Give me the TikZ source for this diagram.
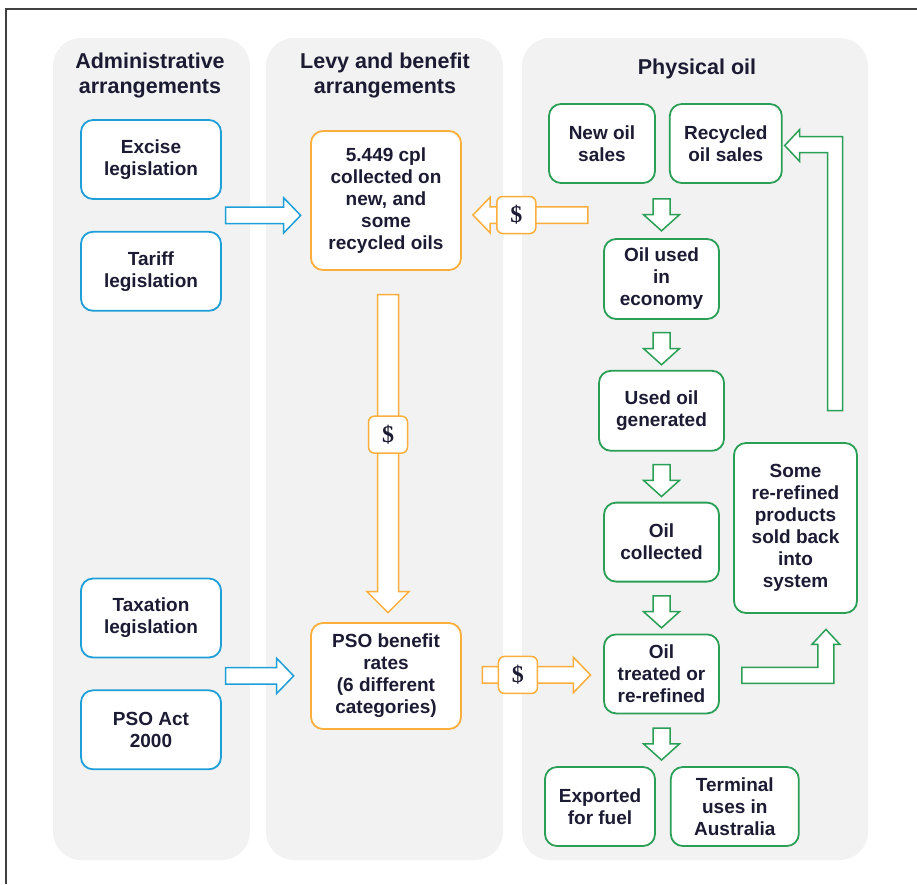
\documentclass[tikz,border=0pt]{standalone}
\usepackage{fontspec}
\setmainfont{Liberation Sans}
\newfontfamily\dollarfont{Liberation Serif}
\usetikzlibrary{shapes.arrows,positioning,calc}
\definecolor{admblue}{HTML}{1E9FD8}
\definecolor{levyorange}{HTML}{FBAE3C}
\definecolor{oilgreen}{HTML}{2A9F55}
\definecolor{panelgrey}{HTML}{F2F2F2}
\definecolor{ink}{HTML}{1B1B33}
\newcommand{\boxfont}{\fontsize{19}{22}\selectfont\bfseries}
\newcommand{\headfont}{\fontsize{21.5}{25}\selectfont\bfseries}
\tikzset{
  panel/.style={fill=panelgrey,rounded corners=28pt},
  heading/.style={align=center,font=\headfont,text=ink},
  stage/.style={rounded corners=12pt,fill=white,line width=1.8pt,align=center,font=\boxfont,text=ink,inner sep=2pt},
  admin/.style={stage,draw=admblue,minimum width=140pt,minimum height=79pt},
  levy/.style={stage,draw=levyorange,minimum width=150pt},
  phys/.style={stage,draw=oilgreen,minimum height=79pt},
  flow/.style={single arrow,fill=white,line width=1.5pt,minimum width=0pt,inner xsep=2pt,inner ysep=7.5pt,
    single arrow head extend=9.5pt,single arrow head indent=0pt,single arrow tip angle=92},
  aflow/.style={flow,draw=admblue},
  lflow/.style={flow,draw=levyorange},
  pflow/.style={flow,draw=oilgreen,shape border rotate=270,minimum height=32pt,inner sep=7.75pt,single arrow tip angle=96},
  bentflow/.style={draw=oilgreen,fill=white,line width=1.5pt,line join=miter},
  cash/.style={draw=levyorange,fill=white,line width=1.5pt,rounded corners=6pt,minimum width=39pt,minimum height=37pt,
    inner sep=0pt,font=\dollarfont\fontsize{24}{24}\selectfont\bfseries,text=ink},
}
\begin{document}
\begin{tikzpicture}[x=1pt,y=-1pt]
  \useasboundingbox (0,0) rectangle (917,884);
  \draw[line width=1.5pt,black!75] (6,884) -- (6,9) -- (917,9);
  \fill[panel] (53,38) rectangle (250,860);
  \fill[panel] (266,38) rectangle (503,860);
  \fill[panel] (522,38) rectangle (868,860);

  \node[heading] (admhead) at (150,75) {Administrative\\arrangements};
  \node[heading] (levyhead) at (385,75) {Levy and benefit\\arrangements};
  \node[heading] (physhead) at (697,68.5) {Physical oil};

  % administrative side
  \node[admin] (excise) at (151,159.5) {Excise\\legislation};
  \node[admin,below=31pt of excise] (tariff) {Tariff\\legislation};
  \node[admin] (taxation) at (151,618) {Taxation\\legislation};
  \node[admin,below=31pt of taxation] (psoact) {PSO Act\\2000};

  % levy and benefit
  \node[levy,minimum height=139pt] (levy) at (386,200.5) {5.449 cpl\\collected on\\new, and\\some\\recycled oils};
  \node[levy,minimum height=106pt] (psob) at (386,676) {PSO benefit\\rates\\(6 different\\categories)};

  % physical oil
  \node[phys,minimum width=106pt] (newoil) at (602,143.5) {New oil\\sales};
  \node[phys,minimum width=112pt,right=13pt of newoil] (recyc) {Recycled\\oil sales};
  \node[phys,minimum width=115pt,minimum height=80pt] (used) at (661.5,279) {Oil used\\in\\economy};
  \node[phys,minimum width=125pt,minimum height=80pt,below=50pt of used] (gen) {Used oil\\generated};
  \node[phys,minimum width=115pt,below=50pt of gen] (coll) {Oil\\collected};
  \node[phys,minimum width=115pt,below=51pt of coll] (treated) {Oil\\treated or\\re-refined};
  \node[phys,minimum width=123pt,minimum height=170pt] (some) at (795.5,528) {Some\\re-refined\\products\\sold back\\into\\system};
  \node[phys,minimum width=110pt] (exported) at (600,806.5) {Exported\\for fuel};
  \node[phys,minimum width=128pt,right=14pt of exported] (terminal) {Terminal\\uses in\\Australia};

  \path (newoil.south -| used.north) -- node[pflow] {} (used.north);
  \path (used.south) -- node[pflow] {} (gen.north);
  \path (gen.south) -- node[pflow] {} (coll.north);
  \path (coll.south) -- node[pflow] {} (treated.north);
  \path (treated.south) -- node[pflow] {} (treated.south |- exported.north);

  \draw[bentflow] ([shift={(22,-6.5)}]treated.east) -- ++(76,0) -- ++(0,-23) -- ++(-6,0) -- ++(14,-15)
    -- ++(14,15) -- ++(-6,0) -- ++(0,39) -- ++(-92,0) -- cycle;
  \draw[bentflow] ([shift={(2,2)}]recyc.east) -- ++(15,-16) -- ++(0,7) -- ++(43,0) -- ++(0,274)
    -- ++(-15,0) -- ++(0,-258) -- ++(-28,0) -- ++(0,9) -- cycle;

  % money flows
  \node[aflow,anchor=tail,minimum height=75pt] (exciseflow) at ($(excise.south east)!.5!(tariff.north east)+(3,0)$) {};
  \node[aflow,anchor=tail,minimum height=68pt] (actflow) at ($(taxation.south east)!.5!(psoact.north east)+(3,2)$) {};

  \node[lflow,shape border rotate=270,anchor=tail,minimum height=318pt,inner sep=9.75pt,
    single arrow head extend=10.5pt,single arrow tip angle=90] (levyflow) at ($(levy.south)+(2,23)$) {};
  \path (levyflow.tail) -- node[cash,pos=.44] {\$} (levyflow.tip);

  \node[lflow,shape border rotate=180,anchor=tip,minimum height=115pt] (oilflow) at ($(levy.east)+(10,14.5)$) {};
  \path (oilflow.tail) -- node[cash,pos=.62] {\$} (oilflow.tip);

  \path (psob.east) -- node[lflow,minimum height=108pt] (payflow) {} (treated.west);
  \path (payflow.tail) -- node[cash,pos=.33] {\$} (payflow.tip);
\end{tikzpicture}
\end{document}
